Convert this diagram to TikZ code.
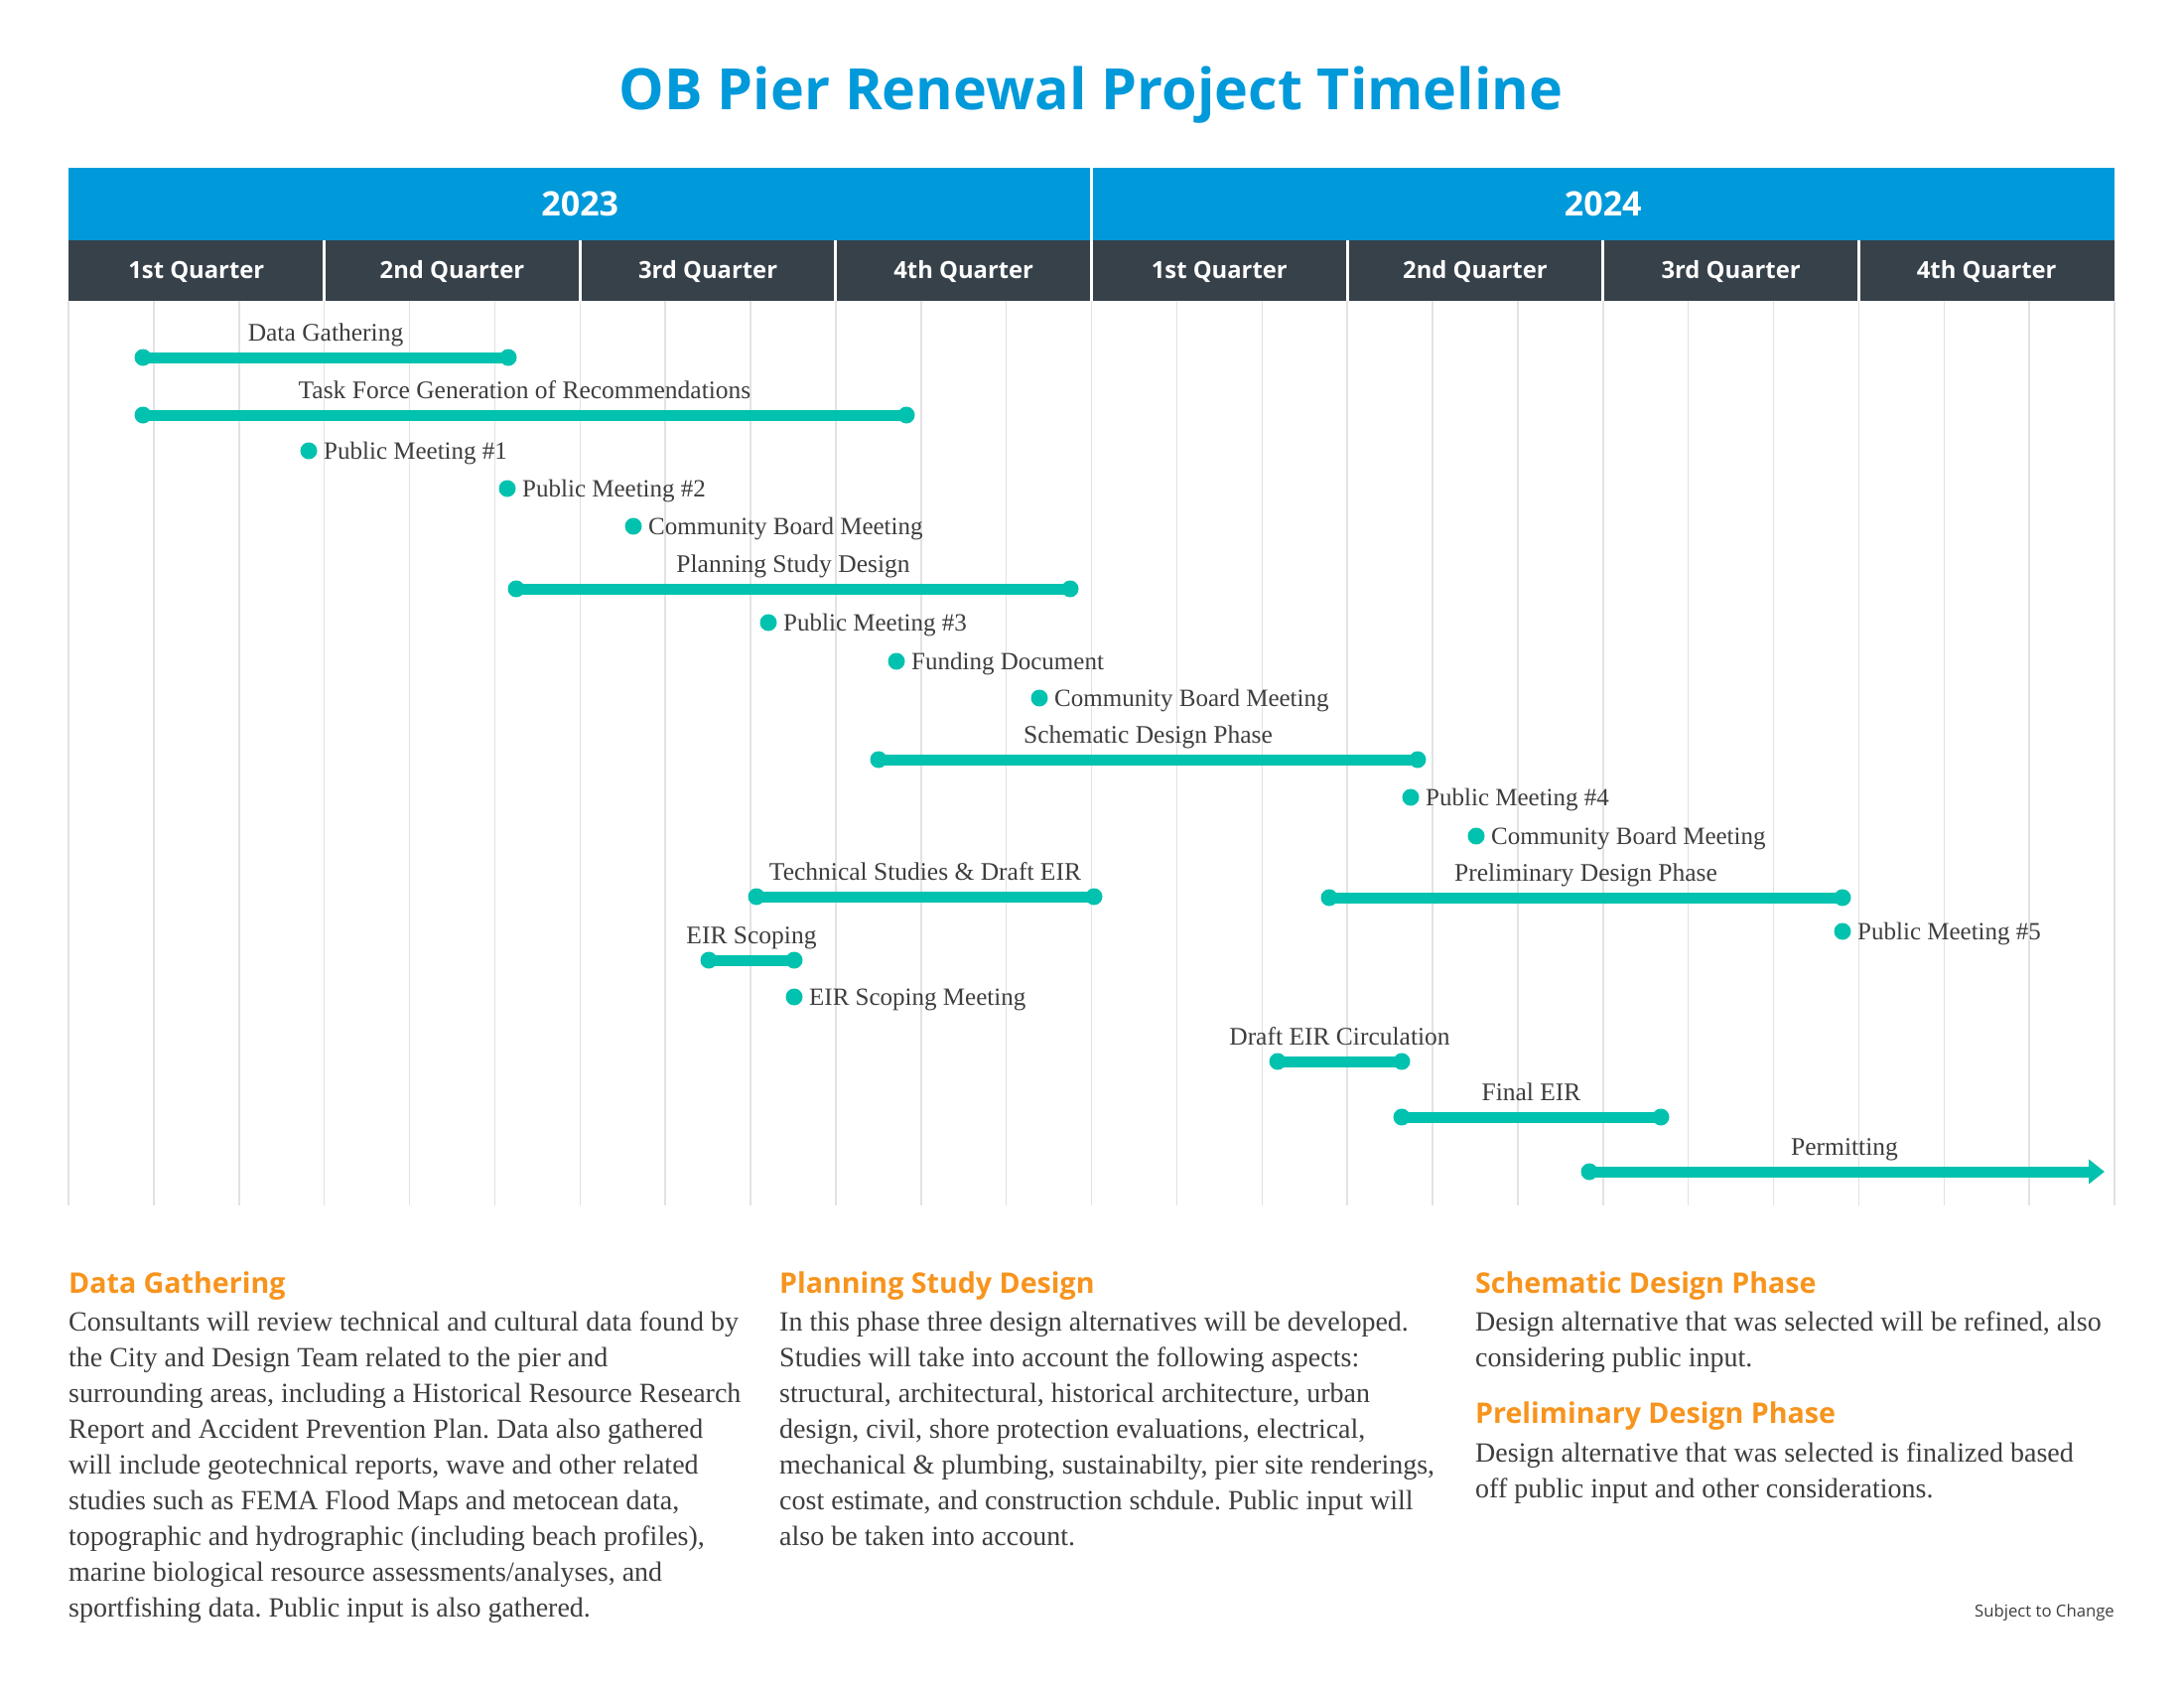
\documentclass[tikz,border=0pt]{standalone}
\usepackage{fontspec}
\setmainfont{Liberation Serif}
\newfontfamily\opensans{Open Sans}
\usetikzlibrary{arrows.meta}
\definecolor{tblue}{RGB}{0,153,218}
\definecolor{tdark}{RGB}{55,65,74}
\definecolor{tteal}{RGB}{0,194,174}
\definecolor{torange}{RGB}{247,148,29}
\definecolor{tgrid}{RGB}{226,226,230}
\definecolor{ttext}{RGB}{62,62,62}
\tikzset{
  bar/.style={line width=11pt, draw=tteal},
  endcap/.style={circle, fill=tteal, minimum size=17pt, inner sep=0pt},
  lbl/.style={font=\fontsize{25.5}{30}\selectfont, text=ttext, inner sep=0pt, anchor=base},
  mlbl/.style={lbl, font=\fontsize{25}{30}\selectfont, anchor=base west},
  yearlbl/.style={font=\opensans\bfseries\fontsize{34}{40}\selectfont, text=white, inner sep=0pt},
  qlbl/.style={font=\opensans\bfseries\fontsize{23.8}{28}\selectfont, text=white, inner sep=0pt},
  head/.style={font=\opensans\bfseries\fontsize{28.6}{32}\selectfont, text=torange, inner sep=0pt, anchor=base west},
  body/.style={font=\fontsize{28}{36}\selectfont\frenchspacing, text=ttext, inner sep=0pt, anchor=base west},
  divider/.style={draw=white, line width=3pt},
  gridline/.style={draw=tgrid, line width=1.5pt}
}
\begin{document}
\begin{tikzpicture}[x=1pt,y=-1pt]
\useasboundingbox (0,0) rectangle (2200,1700);
\fill[white] (0,0) rectangle (2200,1700);

% title
\node[font=\opensans\bfseries\fontsize{57.4}{64}\selectfont, text=tblue, inner sep=0pt, anchor=base] (title) at (1099,110) {OB Pier Renewal Project Timeline};

% grid
\foreach \i in {0,...,24} {
  \draw[gridline] ({69+\i*85.875},303) -- ({69+\i*85.875},1214);
}

% header bars
\fill[tblue] (69,169) rectangle (2130,242);
\fill[tdark] (69,242) rectangle (2130,303);
\draw[divider] (1099.5,169) -- (1099.5,303);
\foreach \i in {1,2,3,5,6,7} {
  \draw[divider] ({69+\i*257.625},242) -- ({69+\i*257.625},303);
}
\node[yearlbl] (y23) at (584.25,205.5) {2023};
\node[yearlbl] (y24) at (1614.75,205.5) {2024};
\foreach \i/\q in {0/1st,1/2nd,2/3rd,3/4th,4/1st,5/2nd,6/3rd,7/4th} {
  \node[qlbl, anchor=base] (q\i) at ({69+(\i+0.5)*257.625},280) {\q\ Quarter};
}

% bars
\node[endcap] (dgA) at (144,360) {};
\node[endcap] (dgB) at (512,360) {};
\draw[bar] (dgA.center) -- (dgB.center);
\node[lbl] (dgL) at (328,343) {Data Gathering};

\node[endcap] (tfA) at (144,418) {};
\node[endcap] (tfB) at (913,418) {};
\draw[bar] (tfA.center) -- (tfB.center);
\node[lbl] (tfL) at (528.5,401) {Task Force Generation of Recommendations};

\node[endcap] (psA) at (520,593) {};
\node[endcap] (psB) at (1078,593) {};
\draw[bar] (psA.center) -- (psB.center);
\node[lbl] (psL) at (799,576) {Planning Study Design};

\node[endcap] (sdA) at (885,765) {};
\node[endcap] (sdB) at (1428,765) {};
\draw[bar] (sdA.center) -- (sdB.center);
\node[lbl] (sdL) at (1156.5,748) {Schematic Design Phase};

\node[endcap] (tsA) at (762,903) {};
\node[endcap] (tsB) at (1102,903) {};
\draw[bar] (tsA.center) -- (tsB.center);
\node[lbl] (tsL) at (932,886) {Technical Studies \& Draft EIR};

\node[endcap] (pdA) at (1339,904) {};
\node[endcap] (pdB) at (1856,904) {};
\draw[bar] (pdA.center) -- (pdB.center);
\node[lbl] (pdL) at (1597.5,887) {Preliminary Design Phase};

\node[endcap] (esA) at (714,967) {};
\node[endcap] (esB) at (800,967) {};
\draw[bar] (esA.center) -- (esB.center);
\node[lbl] (esL) at (757,950) {EIR Scoping};

\node[endcap] (dcA) at (1287,1069) {};
\node[endcap] (dcB) at (1412,1069) {};
\draw[bar] (dcA.center) -- (dcB.center);
\node[lbl] (dcL) at (1349.5,1052) {Draft EIR Circulation};

\node[endcap] (feA) at (1412,1125) {};
\node[endcap] (feB) at (1673,1125) {};
\draw[bar] (feA.center) -- (feB.center);
\node[lbl] (feL) at (1542.5,1108) {Final EIR};

\node[endcap] (peA) at (1601,1180) {};
\coordinate (peB) at (2120,1180);
\draw[bar, -{Triangle[length=16pt,width=24pt]}] (peA.center) -- (peB);
\node[lbl] (peL) at (1858,1163) {Permitting};

% milestones
\foreach \n/\x/\y/\t in {
  m1/311/454/{Public Meeting \#1},
  m2/511/492/{Public Meeting \#2},
  m3/638/530/{Community Board Meeting},
  m4/774/627/{Public Meeting \#3},
  m5/903/666/{Funding Document},
  m6/1047/703/{Community Board Meeting},
  m7/1421/803/{Public Meeting \#4},
  m8/1487/842/{Community Board Meeting},
  m9/1856/938/{Public Meeting \#5},
  m10/800/1004/{EIR Scoping Meeting}} {
  \node[endcap] (\n) at (\x,\y) {};
  \node[mlbl] (\n L) at (\x+15,\y+8.5) {\t};
}

% descriptions
\node[head] (h1) at (69,1302) {Data Gathering};
\node[body] (b1) at (69,1340) {\parbox[t]{720pt}{\raggedright
Consultants will review technical and cultural data found by\\
the City and Design Team related to the pier and\\
surrounding areas, including a Historical Resource Research\\
Report and Accident Prevention Plan. Data also gathered\\
will include geotechnical reports, wave and other related\\
studies such as FEMA Flood Maps and metocean data,\\
topographic and hydrographic (including beach profiles),\\
marine biological resource assessments/analyses, and\\
sportfishing data. Public input is also gathered.}};

\node[head] (h2) at (785,1302) {Planning Study Design};
\node[body] (b2) at (785,1340) {\parbox[t]{720pt}{\raggedright
In this phase three design alternatives will be developed.\\
Studies will take into account the following aspects:\\
structural, architectural, historical architecture, urban\\
design, civil, shore protection evaluations, electrical,\\
mechanical \& plumbing, sustainabilty, pier site renderings,\\
cost estimate, and construction schdule. Public input will\\
also be taken into account.}};

\node[head] (h3) at (1486,1302) {Schematic Design Phase};
\node[body] (b3) at (1486,1340) {\parbox[t]{700pt}{\raggedright
Design alternative that was selected will be refined, also\\
considering public input.}};

\node[head] (h4) at (1486,1433) {Preliminary Design Phase};
\node[body] (b4) at (1486,1472) {\parbox[t]{700pt}{\raggedright
Design alternative that was selected is finalized based\\
off public input and other considerations.}};

\node[font=\opensans\fontsize{16.7}{20}\selectfont, text=ttext, inner sep=0pt, anchor=base east] (stc) at (2130,1628) {Subject to Change};
\end{tikzpicture}
\end{document}
